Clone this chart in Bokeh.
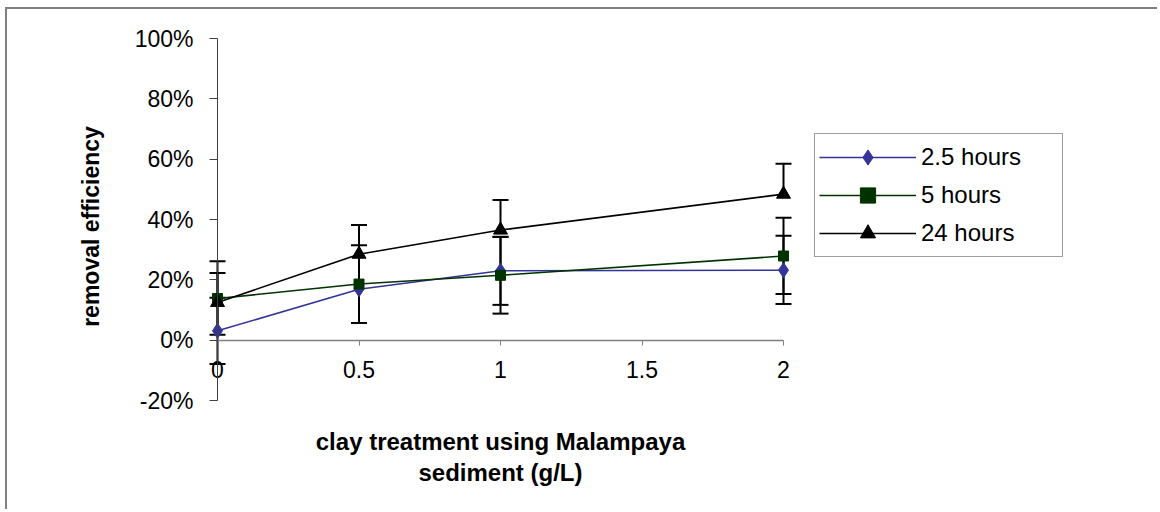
import numpy as np
from bokeh.plotting import figure
from bokeh.models import (Range1d, FixedTicker, Legend, LegendItem, Whisker, TeeHead,
                          ColumnDataSource, LinearAxis)
from bokeh.core.properties import value
from bokeh.embed import file_html
from bokeh.resources import INLINE

# ---------------- data ----------------
doses = [0, 0.5, 1, 2]
series_names = ["2.5 hours", "5 hours", "24 hours"]
eff_2_5h = [3.1, 16.9, 23.0, 23.2]
eff_5h = [13.8, 18.6, 21.5, 27.9]
eff_24h = [12.5, 28.5, 36.5, 48.4]
err_plus_2_5h = [11.0, 0.0, 11.3, 11.4]
err_minus_2_5h = [11.0, 0.0, 11.3, 11.2]
err_plus_5h = [8.5, 12.9, 12.7, 12.7]
err_minus_5h = [12.0, 12.9, 12.7, 12.6]
err_plus_24h = [13.7, 9.7, 10.0, 10.1]
err_minus_24h = [0.0, 0.0, 0.0, 0.0]
x_ticks = [0, 0.5, 1, 1.5, 2]
x_tick_labels = ["0", "0.5", "1", "1.5", "2"]
y_ticks = [-20, 0, 20, 40, 60, 80, 100]
y_tick_labels = ["-20%", "0%", "20%", "40%", "60%", "80%", "100%"]
x_title_lines = ["clay treatment using Malampaya", "sediment (g/L)"]
y_title = "removal efficiency"

colors = ["#333399", "#003300", "#000000"]
FONT = "Liberation Sans"

# ---------------- layout (pixels inside the figure) ----------------
W, H = 1152, 502
X0_PX, X2_PX = 210, 776        # pixel of x = 0 and x = 2
YT_PX, YB_PX = 29, 391         # pixel of y = 100 and y = -20
sx = (X2_PX - X0_PX) / (x_ticks[-1] - x_ticks[0])
sy = (YB_PX - YT_PX) / (y_ticks[-1] - y_ticks[0])
x_lo = x_ticks[0] - X0_PX / sx
x_hi = x_ticks[-1] + (W - X2_PX) / sx
y_hi = y_ticks[-1] + YT_PX / sy
y_lo = y_ticks[0] - (H - YB_PX) / sy


def px_to_x(px):
    return x_lo + px / sx


def px_to_y(py):
    return y_hi - py / sy


p = figure(width=W, height=H, output_backend="svg", toolbar_location=None,
           x_range=Range1d(x_lo, x_hi), y_range=Range1d(y_lo, y_hi),
           x_axis_location=None, y_axis_location=None,
           min_border=0, min_border_left=0, min_border_right=0,
           min_border_top=0, min_border_bottom=0)
p.styles = {"margin-left": "5px", "margin-top": "7px",
            "border-left": "2px solid #808080", "border-top": "2px solid #808080"}
p.outline_line_color = None
p.xgrid.visible = False
p.ygrid.visible = False
p.background_fill_color = "white"
p.border_fill_color = "white"

# x axis crossing at y = 0
xa = LinearAxis(fixed_location=0, bounds=(x_ticks[0], x_ticks[-1]))
xa.ticker = FixedTicker(ticks=x_ticks)
xa.major_label_overrides = {t: l for t, l in zip(x_ticks, x_tick_labels)}
xa.axis_line_color = "#808080"
xa.axis_line_width = 1.5
xa.major_tick_line_color = "#808080"
xa.major_tick_in = 0
xa.major_tick_out = 5
xa.minor_tick_line_color = None
xa.major_label_text_font = FONT
xa.major_label_text_font_size = "23px"
xa.major_label_text_color = "black"
xa.major_label_standoff = 16
p.add_layout(xa, "below")

ya = LinearAxis(fixed_location=0, bounds=(y_ticks[0], y_ticks[-1]))
ya.ticker = FixedTicker(ticks=y_ticks)
ya.major_label_overrides = {t: l for t, l in zip(y_ticks, y_tick_labels)}
ya.axis_line_color = "#404040"
ya.major_tick_line_color = "#404040"
ya.major_tick_in = 0
ya.major_tick_out = 8
ya.minor_tick_line_color = None
ya.major_label_text_font = FONT
ya.major_label_text_font_size = "23px"
ya.major_label_text_color = "black"
ya.major_label_standoff = 16
p.add_layout(ya, "left")

# axis titles
x_mid = (x_ticks[0] + x_ticks[-1]) / 2
p.text(x=[x_mid, x_mid], y=[px_to_y(432), px_to_y(463)], text=x_title_lines,
       text_font=value(FONT), text_font_size="24px", text_font_style="bold",
       text_align="center", text_baseline="middle", text_color="black")
p.text(x=[px_to_x(83)], y=[px_to_y(217)], text=[y_title], angle=np.pi / 2,
       text_font=value(FONT), text_font_size="23px", text_font_style="bold",
       text_align="center", text_baseline="middle", text_color="black")

all_eff = [eff_2_5h, eff_5h, eff_24h]
all_plus = [err_plus_2_5h, err_plus_5h, err_plus_24h]
all_minus = [err_minus_2_5h, err_minus_5h, err_minus_24h]

# error bars (drawn first)
for eff, ep, em in zip(all_eff, all_plus, all_minus):
    up = [(x, m, m + e) for x, m, e in zip(doses, eff, ep) if e > 0]
    if up:
        src = ColumnDataSource(dict(base=[u[0] for u in up], lower=[u[1] for u in up], upper=[u[2] for u in up]))
        p.add_layout(Whisker(source=src, base="base", lower="lower", upper="upper", dimension="height",
                             line_color="black", line_width=2, lower_head=None,
                             upper_head=TeeHead(size=16, line_color="black", line_width=2)))
    dn = [(x, m - e, m) for x, m, e in zip(doses, eff, em) if e > 0]
    if dn:
        src = ColumnDataSource(dict(base=[d[0] for d in dn], lower=[d[1] for d in dn], upper=[d[2] for d in dn]))
        p.add_layout(Whisker(source=src, base="base", lower="lower", upper="upper", dimension="height",
                             line_color="black", line_width=2, upper_head=None,
                             lower_head=TeeHead(size=16, line_color="black", line_width=2)))

markers = [dict(marker="diamond", size=15),
           dict(marker="square", size=10),
           dict(marker="triangle", size=14)]
line_rs = []
for eff, c in zip(all_eff, colors):
    line_rs.append(p.line(doses, eff, line_color=c, line_width=1.6))
scat_rs = []
for eff, c, mk in zip(all_eff, colors, markers):
    scat_rs.append(p.scatter(doses, eff, marker=mk["marker"], size=mk["size"],
                             fill_color=c, line_color=c))
items = [LegendItem(label=n, renderers=[lr, sr]) for n, lr, sr in zip(series_names, line_rs, scat_rs)]

legend = Legend(items=items, location=(807, 254), padding=4, spacing=0, margin=0,
                glyph_width=97, glyph_height=38, label_standoff=5, label_width=137,
                label_height=38,
                label_text_font=FONT, label_text_font_size="24px", label_text_color="black",
                border_line_color="#404040", border_line_width=1,
                background_fill_color="white", background_fill_alpha=1.0)
p.add_layout(legend)

open("out.html", "w").write(file_html(p, INLINE))
